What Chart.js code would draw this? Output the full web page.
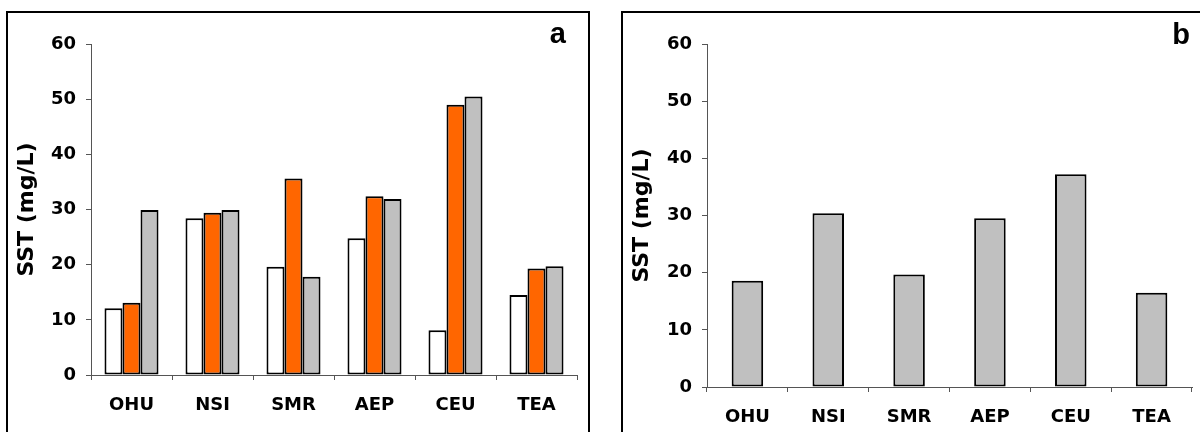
<!DOCTYPE html>
<html>
<head>
<meta charset="utf-8">
<script src="https://cdn.jsdelivr.net/npm/chart.js@4.4.1/dist/chart.umd.min.js"></script>
<style>
  html, body { margin: 0; padding: 0; background: #fff; }
  body { width: 1200px; height: 432px; position: relative; overflow: hidden; }
  .wrap { position: absolute; top: 0; height: 432px; width: 600px; }
  .frame { position: absolute; border: 2px solid #000; pointer-events: none; }
  .tag { position: absolute; font: bold 29px "Liberation Sans", Arial, sans-serif; line-height: 29px; color: #000; }
</style>
</head>
<body>
<div class="wrap" style="left:0"><canvas id="graficoA" width="600" height="432"></canvas></div>
<div class="wrap" style="left:600px"><canvas id="graficoB" width="600" height="432"></canvas></div>
<div class="frame" style="left:6px; top:11px; width:580px; height:440px;"></div>
<div class="frame" style="left:621px; top:11px; width:600px; height:440px;"></div>
<div class="tag" style="right:634px; top:19px;">a</div>
<div class="tag" style="right:10px; top:20px;">b</div>
<script>
// categorias e valores
const categorias = ['OHU', 'NSI', 'SMR', 'AEP', 'CEU', 'TEA'];
const serieBranca = [12.1, 28.4, 19.6, 24.8, 8.1, 14.5];
const serieLaranja = [13.1, 29.4, 35.6, 32.4, 49.0, 19.3];
const serieCinza = [29.9, 29.9, 17.8, 31.9, 50.5, 19.7];
const serieB = [18.6, 30.4, 19.7, 29.5, 37.2, 16.5];
const ticksY = [0, 10, 20, 30, 40, 50, 60];

const fonteEixo = { family: "'DejaVu Sans', Verdana, sans-serif", size: 18, weight: 'bold' };
const fonteTitulo = { family: "'DejaVu Sans', Verdana, sans-serif", size: 22, weight: 'bold' };

function opcoes(larguraY, alturaX, padding, tituloPad) {
    return {
        responsive: false,
        animation: false,
        layout: { padding: padding },
        plugins: { legend: { display: false }, tooltip: { enabled: false }, title: { display: false } },
        scales: {
            x: {
                offset: true,
                grid: { drawOnChartArea: false, drawTicks: true, tickLength: 5, color: '#555', offset: true },
                border: { color: '#555', width: 1 },
                ticks: { color: '#000', font: fonteEixo, padding: 15, maxRotation: 0 },
                afterFit: function(scale) { scale.height = alturaX; }
            },
            y: {
                min: 0,
                max: 60,
                afterBuildTicks: function(scale) { scale.ticks = ticksY.map(v => ({ value: v })); },
                grid: { drawOnChartArea: false, drawTicks: true, tickLength: 5, color: '#555' },
                border: { color: '#555', width: 1 },
                ticks: { color: '#000', font: fonteEixo, padding: 10 },
                title: { display: true, text: 'SST (mg/L)', color: '#000', font: fonteTitulo, padding: { top: tituloPad, bottom: 0 } },
                afterFit: function(scale) { scale.width = larguraY; }
            }
        }
    };
}

function barra(dados, cor) {
    return {
        data: dados,
        backgroundColor: cor,
        borderColor: '#000',
        borderWidth: 2,
        borderSkipped: false
    };
}

new Chart(document.getElementById('graficoA').getContext('2d'), {
    type: 'bar',
    data: {
        labels: categorias,
        datasets: [
            Object.assign(barra(serieBranca, '#ffffff'), { categoryPercentage: 0.667, barPercentage: 1.0 }),
            Object.assign(barra(serieLaranja, '#ff6600'), { categoryPercentage: 0.667, barPercentage: 1.0 }),
            Object.assign(barra(serieCinza, '#c0c0c0'), { categoryPercentage: 0.667, barPercentage: 1.0 })
        ]
    },
    options: opcoes(91, 45, { top: 44, right: 23, bottom: 12, left: 0 }, 14)
});

new Chart(document.getElementById('graficoB').getContext('2d'), {
    type: 'bar',
    data: {
        labels: categorias,
        datasets: [
            Object.assign(barra(serieB, '#c0c0c0'), { categoryPercentage: 0.39, barPercentage: 1.0 })
        ]
    },
    options: opcoes(107, 35, { top: 44, right: 8, bottom: 10, left: 0 }, 29)
});
</script>
</body>
</html>
